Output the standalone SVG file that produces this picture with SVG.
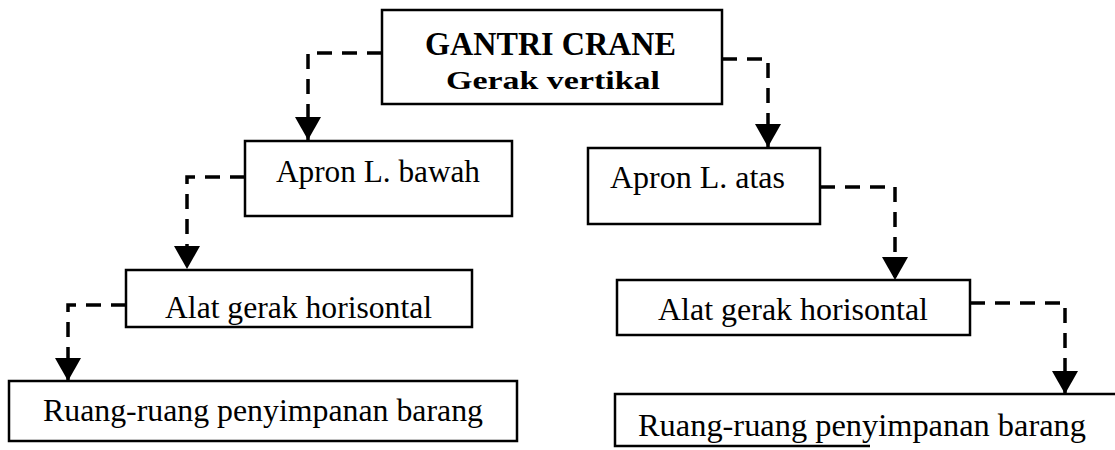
<svg xmlns="http://www.w3.org/2000/svg" width="1115" height="450" viewBox="0 0 1115 450">
<style>
.box{fill:#fff;stroke:#000;stroke-width:2.5}
.t{font-family:"Liberation Serif","Times New Roman",serif;font-size:31px;fill:#000}
.b{font-family:"Liberation Serif","Times New Roman",serif;font-weight:bold;fill:#000}
.c{fill:none;stroke:#000;stroke-width:3.5;stroke-dasharray:15 10}
</style>
<defs>
<marker id="ah" markerUnits="userSpaceOnUse" markerWidth="26" markerHeight="24" viewBox="0 0 26 24" refX="13" refY="23" orient="0">
<path d="M0,0 L26,0 L13,23 Z" fill="#000"/>
</marker>
</defs>
<rect width="1115" height="450" fill="#fff"/>
<g id="connectors">
<path class="c" d="M382,53 H308 V140" marker-end="url(#ah)"/>
<path class="c" d="M722,59 H768 V147" marker-end="url(#ah)"/>
<path class="c" d="M245,177 H187 V269" marker-end="url(#ah)"/>
<path class="c" d="M126,305 H68 V381" marker-end="url(#ah)"/>
<path class="c" d="M820,187 H895 V280" marker-end="url(#ah)"/>
<path class="c" d="M970,303 H1065 V394" marker-end="url(#ah)"/>
</g>
<g id="gantri">
<rect class="box" x="382" y="10" width="340" height="94" stroke-width="3"/>
<text class="b" x="425" y="55" font-size="33" textLength="251" lengthAdjust="spacingAndGlyphs">GANTRI CRANE</text>
<text class="b" x="446" y="89" font-size="26" textLength="214" lengthAdjust="spacingAndGlyphs">Gerak vertikal</text>
</g>
<g id="apron-bawah">
<rect class="box" x="245" y="141" width="267" height="75"/>
<text class="t" x="276" y="182" textLength="204" lengthAdjust="spacingAndGlyphs">Apron L. bawah</text>
</g>
<g id="apron-atas">
<rect class="box" x="588" y="148" width="232" height="76"/>
<text class="t" x="610" y="188" textLength="175" lengthAdjust="spacingAndGlyphs">Apron L. atas</text>
</g>
<g id="alat-kiri">
<rect class="box" x="126" y="270" width="346" height="57"/>
<text class="t" x="165" y="318" textLength="267" lengthAdjust="spacingAndGlyphs">Alat gerak horisontal</text>
</g>
<g id="alat-kanan">
<rect class="box" x="617" y="280" width="353" height="55"/>
<text class="t" x="658" y="320" textLength="270" lengthAdjust="spacingAndGlyphs">Alat gerak horisontal</text>
</g>
<g id="ruang-kiri">
<rect class="box" x="9" y="381" width="508" height="60"/>
<text class="t" x="43" y="421" textLength="440" lengthAdjust="spacingAndGlyphs">Ruang-ruang penyimpanan barang</text>
</g>
<g id="ruang-kanan">
<path fill="none" stroke="#000" stroke-width="2.5" d="M1116,394 H615 V446 H870"/>
<text class="t" x="638" y="436" textLength="448" lengthAdjust="spacingAndGlyphs">Ruang-ruang penyimpanan barang</text>
</g>
</svg>
